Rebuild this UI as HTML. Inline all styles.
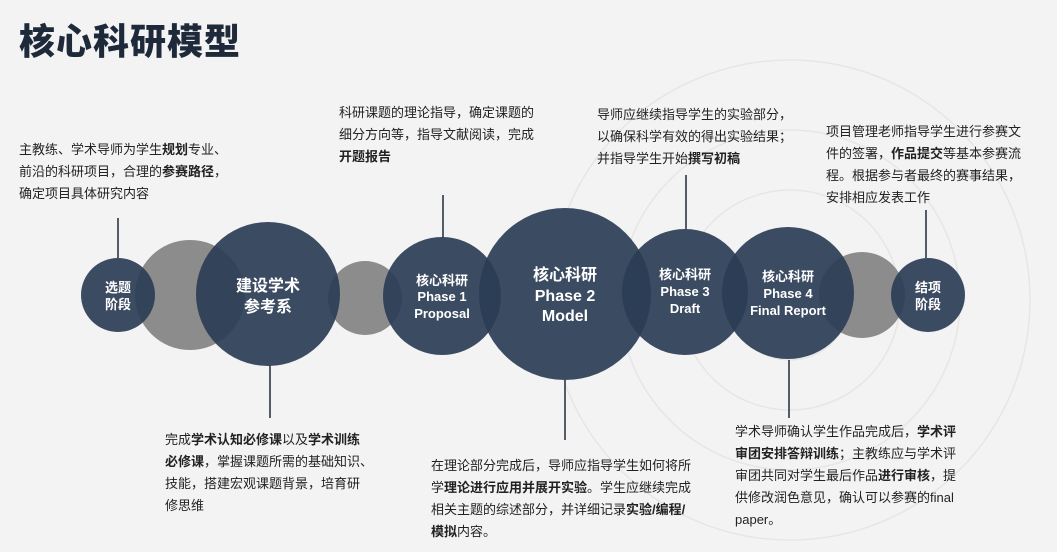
<!DOCTYPE html>
<html><head><meta charset="utf-8"><style>
body{margin:0;width:1057px;height:552px;overflow:hidden;background:#f3f3f4;font-family:"Liberation Sans","Noto Sans CJK SC",sans-serif;position:relative}
.t{position:absolute;font-size:13px;line-height:22px;color:#222;white-space:nowrap}
.t b{font-weight:bold}
h1{position:absolute;left:19px;top:13px;margin:0;font-size:36px;font-weight:900;color:#1e2a3a;letter-spacing:1px}
</style></head><body>
<svg width="1057" height="552" style="position:absolute;left:0;top:0">
<g fill="none" stroke="#e6e6e6" stroke-width="1.5">
<circle cx="790" cy="300" r="60"/><circle cx="790" cy="300" r="110"/><circle cx="790" cy="300" r="170"/><circle cx="790" cy="300" r="240"/>
</g>
<g stroke="#1e2a3a" stroke-width="1.5">
<line x1="118" y1="218" x2="118" y2="258"/><line x1="443" y1="195" x2="443" y2="238"/>
<line x1="686" y1="175" x2="686" y2="229"/><line x1="926" y1="210" x2="926" y2="258"/>
<line x1="270" y1="365" x2="270" y2="418"/><line x1="565" y1="380" x2="565" y2="440"/>
<line x1="789" y1="360" x2="789" y2="418"/>
</g>
<g fill="#8c8c8c">
<circle cx="190" cy="295" r="55"/><circle cx="365" cy="298" r="37"/><circle cx="862" cy="295" r="43"/>
</g>
<g fill="#2b3d55" fill-opacity="0.92">
<circle cx="118" cy="295" r="37"/><circle cx="268" cy="294" r="72"/><circle cx="442" cy="296" r="59"/>
<circle cx="565" cy="294" r="86"/><circle cx="685" cy="292" r="63"/><circle cx="788" cy="293" r="66"/>
<circle cx="928" cy="295" r="37"/>
</g>
<g fill="#fff" font-weight="bold" text-anchor="middle" font-family="Liberation Sans,Noto Sans CJK SC,sans-serif">
<text x="118" y="292" font-size="13">选题</text><text x="118" y="309" font-size="13">阶段</text>
<text x="268" y="291" font-size="16">建设学术</text><text x="268" y="312" font-size="16">参考系</text>
<text x="442" y="285" font-size="13">核心科研</text><text x="442" y="301" font-size="13">Phase 1</text><text x="442" y="318" font-size="13">Proposal</text>
<text x="565" y="280" font-size="16">核心科研</text><text x="565" y="301" font-size="16">Phase 2</text><text x="565" y="321" font-size="16">Model</text>
<text x="685" y="279" font-size="13">核心科研</text><text x="685" y="296" font-size="13">Phase 3</text><text x="685" y="313" font-size="13">Draft</text>
<text x="788" y="281" font-size="13">核心科研</text><text x="788" y="298" font-size="13">Phase 4</text><text x="788" y="315" font-size="13">Final Report</text>
<text x="928" y="292" font-size="13">结项</text><text x="928" y="309" font-size="13">阶段</text>
</g>
</svg>
<h1>核心科研模型</h1>
<div class="t" style="left:19px;top:139px">主教练、学术导师为学生<b>规划</b>专业、<br>前沿的科研项目，合理的<b>参赛路径</b>，<br>确定项目具体研究内容</div>
<div class="t" style="left:339px;top:102px">科研课题的理论指导，确定课题的<br>细分方向等，指导文献阅读，完成<br><b>开题报告</b></div>
<div class="t" style="left:597px;top:104px">导师应继续指导学生的实验部分，<br>以确保科学有效的得出实验结果；<br>并指导学生开始<b>撰写初稿</b></div>
<div class="t" style="left:826px;top:121px">项目管理老师指导学生进行参赛文<br>件的签署，<b>作品提交</b>等基本参赛流<br>程。根据参与者最终的赛事结果，<br>安排相应发表工作</div>
<div class="t" style="left:165px;top:429px">完成<b>学术认知必修课</b>以及<b>学术训练</b><br><b>必修课</b>，掌握课题所需的基础知识、<br>技能，搭建宏观课题背景，培育研<br>修思维</div>
<div class="t" style="left:431px;top:455px">在理论部分完成后，导师应指导学生如何将所<br>学<b>理论进行应用并展开实验</b>。学生应继续完成<br>相关主题的综述部分，并详细记录<b>实验/编程/</b><br><b>模拟</b>内容。</div>
<div class="t" style="left:735px;top:421px">学术导师确认学生作品完成后，<b>学术评</b><br><b>审团安排答辩训练</b>；主教练应与学术评<br>审团共同对学生最后作品<b>进行审核</b>，提<br>供修改润色意见，确认可以参赛的final<br>paper。</div>
</body></html>
